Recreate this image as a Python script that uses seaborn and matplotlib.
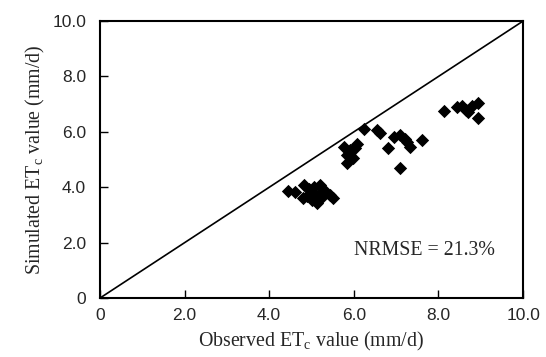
import pandas as pd
import matplotlib
matplotlib.use("Agg")
import matplotlib.pyplot as plt
import seaborn as sns

# observed vs simulated ETc (mm/d)
observed = [4.45, 4.60, 4.80, 4.83, 4.90, 4.95, 5.00, 5.02, 5.07, 5.10, 5.14, 5.19, 5.24, 5.26, 5.30, 5.43, 5.50,
            5.78, 5.85, 5.85, 5.90, 5.97, 6.02, 6.08, 6.25, 6.54, 6.61,
            6.80, 6.96, 7.09, 7.08, 7.20, 7.25, 7.32, 7.60,
            8.14, 8.43, 8.55, 8.66, 8.70, 8.80, 8.93, 8.93]
simulated = [3.85, 3.83, 3.61, 4.08, 3.70, 3.95, 3.80, 3.54, 4.00, 3.68, 3.43, 4.08, 3.83, 3.65, 3.90, 3.72, 3.62,
             5.45, 5.16, 4.87, 5.34, 5.05, 5.42, 5.55, 6.10, 6.06, 5.96,
             5.42, 5.81, 5.90, 4.69, 5.75, 5.63, 5.45, 5.70,
             6.75, 6.90, 6.92, 6.80, 6.70, 6.95, 7.04, 6.50]
one_to_one = [0.0, 10.0]
tick_values = [0, 2, 4, 6, 8, 10]
tick_labels = ["0", "2.0", "4.0", "6.0", "8.0", "10.0"]
nrmse_text = "NRMSE = 21.3%"

df = pd.DataFrame({"Observed": observed, "Simulated": simulated})
line_df = pd.DataFrame({"x": one_to_one, "y": one_to_one})

sns.set_style("ticks")
plt.rcParams["font.family"] = ["Liberation Sans", "DejaVu Sans"]
plt.rcParams["mathtext.fontset"] = "custom"
plt.rcParams["mathtext.rm"] = "Liberation Serif"

fig = plt.figure(figsize=(5.46, 3.57), dpi=100)
ax = fig.add_axes([0.183, 0.165, 0.775, 0.776])

sns.lineplot(data=line_df, x="x", y="y", color="black", linewidth=1.2, ax=ax)
sns.scatterplot(data=df, x="Observed", y="Simulated", marker="D", color="black",
                s=46, edgecolor="black", linewidth=0, ax=ax, zorder=3)

ax.set_xlim(0, 10)
ax.set_ylim(0, 10)
ax.set_xticks(tick_values)
ax.set_xticklabels(tick_labels, fontsize=12.5)
ax.set_yticks(tick_values)
ax.set_yticklabels(tick_labels, fontsize=12.5)
ax.tick_params(direction="in", length=6, width=1, color="black")
ax.tick_params(axis="x", pad=7)
ax.tick_params(axis="y", pad=10)

for side in ["top", "right", "bottom", "left"]:
    ax.spines[side].set_visible(True)
    ax.spines[side].set_color("black")
    ax.spines[side].set_linewidth(1.5)

serif = ["Liberation Serif", "DejaVu Serif"]
ax.set_xlabel(r"Observed ET$_\mathrm{c}$ value (mm/d)", fontsize=14.3, family=serif, labelpad=5)
ax.set_ylabel(r"Simulated ET$_\mathrm{c}$ value (mm/d)", fontsize=14.3, family=serif, labelpad=4)
ax.text(6.0, 1.73, nrmse_text, fontsize=14.3, family=serif, va="center", ha="left")

fig.savefig("out.png", dpi=100)
